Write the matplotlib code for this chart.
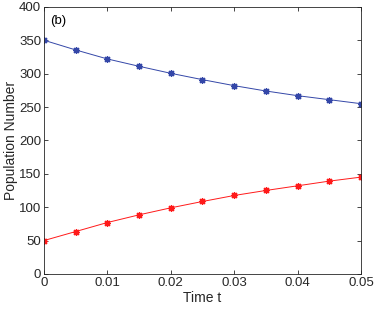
import matplotlib
matplotlib.use("Agg")
import matplotlib.pyplot as plt

plt.rcParams["font.family"] = ["Liberation Sans", "DejaVu Sans"]

t = [0, 0.005, 0.01, 0.015, 0.02, 0.025, 0.03, 0.035, 0.04, 0.045, 0.05]
pop_blue = [350, 335.5, 322, 311, 300.5, 291, 282, 274, 267, 261, 255]
pop_red = [50, 63.5, 77, 88.5, 99, 108.5, 117.5, 125, 132, 139, 145]

xticks = [0, 0.01, 0.02, 0.03, 0.04, 0.05]
xticklabels = ["0", "0.01", "0.02", "0.03", "0.04", "0.05"]
yticks = list(range(0, 401, 50))

fig = plt.figure(figsize=(3.74, 3.12), dpi=100)
ax = fig.add_axes([0.1176, 0.122, 0.8474, 0.856])

# matlab style asterisk marker
star = (8, 2, 0)
ax.plot(t, pop_blue, color="#3447a8", lw=0.7, marker=star, ms=5, mew=0.9)
ax.plot(t, pop_red, color="#ff1a1a", lw=0.7, marker=star, ms=5, mew=0.9)

ax.set_xlim(0, 0.05)
ax.set_ylim(0, 400)
ax.set_xticks(xticks)
ax.set_xticklabels(xticklabels)
ax.set_yticks(yticks)
ax.tick_params(direction="in", top=True, right=True, length=3, width=0.6,
               colors="#262626", labelsize=9.5, pad=2)
for s in ax.spines.values():
    s.set_color("#262626")
    s.set_linewidth(0.6)

ax.set_xlabel("Time t", fontsize=10, color="#262626", labelpad=2)
ax.set_ylabel("Population Number", fontsize=10, color="#262626", labelpad=1)
ax.text(0.02, 0.97, "(b)", transform=ax.transAxes, fontsize=9.5, va="top", ha="left")

fig.savefig("out.png", dpi=100)
